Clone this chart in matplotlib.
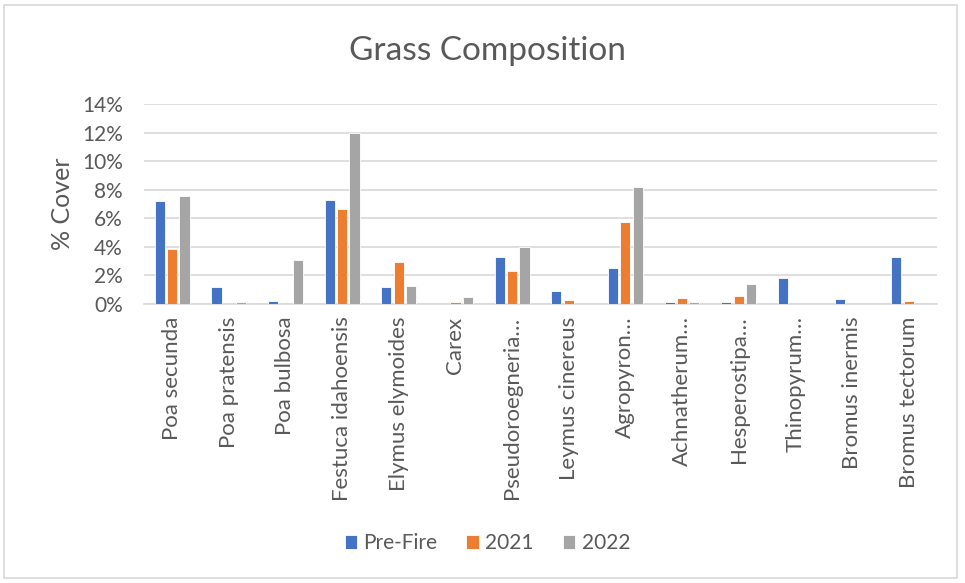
import numpy as np
import matplotlib.pyplot as plt
import matplotlib.ticker as ticker
from matplotlib.patches import Rectangle

plt.rcParams["font.family"] = ["Lato", "DejaVu Sans"]

species = [
    "Poa secunda", "Poa pratensis", "Poa bulbosa", "Festuca idahoensis",
    "Elymus elymoides", "Carex", "Pseudoroegneria…", "Leymus cinereus",
    "Agropyron…", "Achnatherum…", "Hesperostipa…", "Thinopyrum…",
    "Bromus inermis", "Bromus tectorum",
]
pre_fire = [7.22, 1.21, 0.23, 7.29, 1.21, 0.0, 3.32, 0.89, 2.50, 0.14, 0.14, 1.82, 0.33, 3.32]
y2021 = [3.88, 0.0, 0.0, 6.66, 2.92, 0.14, 2.31, 0.30, 5.75, 0.42, 0.58, 0.0, 0.0, 0.23]
y2022 = [7.57, 0.14, 3.06, 11.96, 1.26, 0.49, 3.97, 0.0, 8.22, 0.14, 1.40, 0.0, 0.0, 0.0]

series = [
    ("Pre-Fire", pre_fire, "#4472C4"),
    ("2021", y2021, "#ED7D31"),
    ("2022", y2022, "#A5A5A5"),
]

text_color = "#595959"

fig = plt.figure(figsize=(9.65, 5.83), dpi=100)
ax = fig.add_axes([0.149, 0.4786, 0.822, 0.343])

x = np.arange(len(species))
width = 0.18
offsets = [-0.218, 0.0, 0.218]
for (label, vals, color), off in zip(series, offsets):
    ax.bar(x + off, np.array(vals) / 100, width, color=color, label=label,
           edgecolor="white", linewidth=0.6, zorder=3)

ax.set_xlim(-0.5, len(species) - 0.5)
ax.set_ylim(0, 0.14)
ax.set_yticks(np.arange(0, 0.141, 0.02))
ax.yaxis.set_major_formatter(ticker.FuncFormatter(lambda v, _: f"{v * 100:.0f}%"))
ax.set_xticks(x)
ax.set_xticklabels(species, rotation=90, fontsize=16, color=text_color)
ax.tick_params(axis="y", labelsize=15, colors=text_color, length=0, pad=15)
ax.tick_params(axis="x", length=0, pad=9)

ax.grid(axis="y", color="#D9D9D9", linewidth=1.2, zorder=0)
for side in ["top", "right", "left"]:
    ax.spines[side].set_visible(False)
ax.spines["bottom"].set_color("#D9D9D9")
ax.spines["bottom"].set_linewidth(1.2)

ax.set_ylabel("% Cover", fontsize=18, color=text_color, labelpad=6)
fig.text(0.505, 0.913, "Grass Composition", ha="center", va="center",
         fontsize=24, color=text_color)

handles, labels = ax.get_legend_handles_labels()
fig.legend(handles, labels, loc="center", bbox_to_anchor=(0.505, 0.068),
           ncol=3, frameon=False, fontsize=15, labelcolor=text_color,
           handlelength=0.6, handleheight=0.6, handletextpad=0.3, columnspacing=1.4)

fig.patches.append(Rectangle((0.004, 0.009), 0.988, 0.983, transform=fig.transFigure,
                             fill=False, edgecolor="#D9D9D9", linewidth=1.2))

fig.savefig("out.png", dpi=100, facecolor="white")
